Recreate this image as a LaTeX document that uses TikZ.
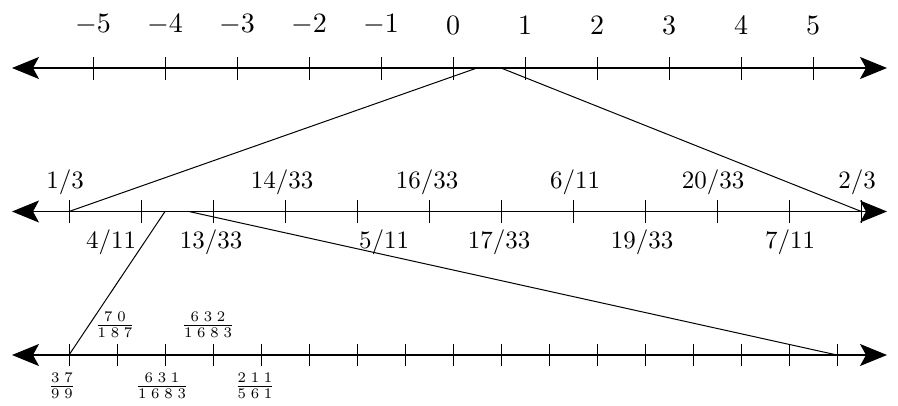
\documentclass[tikz,border=0pt]{standalone}
\usepackage{graphicx}
\usetikzlibrary{arrows.meta}
\newcommand{\dg}{\mkern5mu}
\newcommand{\toptext}[1]{\scalebox{2.8}{#1}}
\newcommand{\midtext}[1]{\scalebox{2.5}{#1}}
\newcommand{\fractext}[1]{\scalebox{2.1}{#1}}
\begin{document}
\begin{tikzpicture}[x=1pt,y=-1pt,
  axis/.style={line width=1.2pt,{Stealth[length=27pt,width=22pt,inset=6pt]}-{Stealth[length=27pt,width=22pt,inset=6pt]}},
  tickmark/.style={line width=1pt},
  toplab/.style={font=\fontsize{10}{12}\selectfont,inner sep=0pt},
  midlab/.style={font=\fontsize{10}{12}\selectfont,inner sep=0pt},
  fraclab/.style={font=\fontsize{10}{12}\selectfont,inner sep=0pt},
  link/.style={line width=1pt}]
\useasboundingbox (0,0) rectangle (898,405);
% top axis
\coordinate (tL) at (12,68);
\coordinate (tR) at (887,68);
\draw[axis] (tL) -- (tR);
\foreach \i [count=\c] in {-5,...,5}{
  \coordinate (tt\c) at ({453+72*\i},68);
  \draw[tickmark] ([yshift=-11.5pt]tt\c) -- ([yshift=11.5pt]tt\c);
  \node[toplab] (tl\c) at ({453+72*\i},25) {\toptext{$\i$}};
}
\coordinate (tA) at (477,68);
\coordinate (tB) at (501,68);
% middle axis
\coordinate (mL) at (12,211.5);
\coordinate (mR) at (887,211.5);
\draw[axis] (mL) -- (mR);
\foreach \k in {0,...,11}{
  \coordinate (mt\k) at ({69+72.03*\k},211.5);
  \draw[tickmark] ([yshift=-11.5pt]mt\k) -- ([yshift=11.5pt]mt\k);
}
\node[midlab] (m0) at (65,182) {\midtext{1/3}};
\node[midlab] (m3) at (282,182) {\midtext{14/33}};
\node[midlab] (m5) at (427,182) {\midtext{16/33}};
\node[midlab] (m7) at (575,182) {\midtext{6/11}};
\node[midlab] (m9) at (713,182) {\midtext{20/33}};
\node[midlab] (m11) at (857,182) {\midtext{2/3}};
\node[midlab] (m1) at (111,242) {\midtext{4/11}};
\node[midlab] (m2) at (211,242) {\midtext{13/33}};
\node[midlab] (m4) at (384,242) {\midtext{5/11}};
\node[midlab] (m6) at (499,242) {\midtext{17/33}};
\node[midlab] (m8) at (642,242) {\midtext{19/33}};
\node[midlab] (m10) at (790,242) {\midtext{7/11}};
\coordinate (mA) at (165,211.5);
\coordinate (mB) at (189,211.5);
% bottom axis
\coordinate (bL) at (12,355);
\coordinate (bR) at (887,355);
\draw[axis] (bL) -- (bR);
\foreach \k in {0,...,16}{
  \coordinate (bt\k) at ({69+48*\k},355);
  \draw[tickmark] ([yshift=-11pt]bt\k) -- ([yshift=11pt]bt\k);
}
\node[fraclab] (b1) at (115,325) {\fractext{$\frac{7\dg0}{1\dg8\dg7}$}};
\node[fraclab] (b3) at (208,325) {\fractext{$\frac{6\dg3\dg2}{1\dg6\dg8\dg3}$}};
\node[fraclab] (b0) at (62,386) {\fractext{$\frac{3\dg7}{9\dg9}$}};
\node[fraclab] (b2) at (162,386) {\fractext{$\frac{6\dg3\dg1}{1\dg6\dg8\dg3}$}};
\node[fraclab] (b4) at (255,386) {\fractext{$\frac{2\dg1\dg1}{5\dg6\dg1}$}};
% zoom connectors
\draw[link] (mt0) -- (tA);
\draw[link] (mt11) -- (tB);
\draw[link] (bt0) -- (mA);
\draw[link] (bt16) -- (mB);
\end{tikzpicture}
\end{document}
